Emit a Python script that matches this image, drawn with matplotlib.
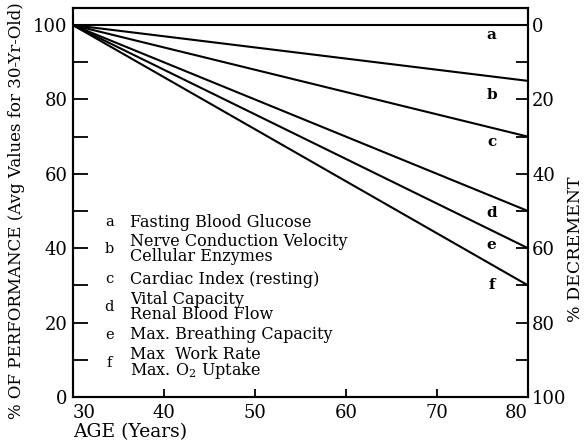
import matplotlib
matplotlib.use("Agg")
import matplotlib.pyplot as plt

plt.rcParams['font.family'] = ['DejaVu Serif']
plt.rcParams['mathtext.fontset'] = 'dejavuserif'

# data
ages = [30, 80]
line_keys = ['a', 'b', 'c', 'd', 'e', 'f']
perf_at_80 = [100, 85, 70, 50, 40, 30]
perf_at_30 = 100

legend_keys = ['a', 'b', 'c', 'd', 'e', 'f']
legend_texts = [
    'Fasting Blood Glucose',
    'Nerve Conduction Velocity\nCellular Enzymes',
    'Cardiac Index (resting)',
    'Vital Capacity\nRenal Blood Flow',
    'Max. Breathing Capacity',
    'Max  Work Rate\nMax. O$_2$ Uptake',
]
legend_y = [47.0, 39.7, 31.7, 24.3, 16.7, 9.0]
key_label_y = [97.3, 81.2, 68.5, 49.5, 40.9, 30.1]

left_ticks = [0, 20, 40, 60, 80, 100]
right_ticks = [0, 20, 40, 60, 80, 100]
x_ticks = [30, 40, 50, 60, 70, 80]

fig = plt.figure(figsize=(5.88, 4.45), dpi=100)
ax = fig.add_axes([0.124, 0.108, 0.774, 0.874])
ymax = 104.6
ax.set_xlim(30, 80)
ax.set_ylim(0, ymax)

for key, end in zip(line_keys, perf_at_80):
    ax.plot(ages, [perf_at_30, end], color='black', lw=1.5, solid_capstyle='butt', clip_on=False)

for key, y in zip(line_keys, key_label_y):
    ax.text(76.0, y, key, ha='center', va='center', fontsize=11, fontweight='bold')

for key, txt, y in zip(legend_keys, legend_texts, legend_y):
    ax.text(34.0, y, key, ha='center', va='center', fontsize=10.5)
    ax.text(36.3, y, txt, ha='left', va='center', fontsize=11.5, linespacing=0.85)

for s in ax.spines.values():
    s.set_linewidth(1.5)

ax.set_yticks(left_ticks)
ax.set_yticks(range(0, 101, 10), minor=True)
ax.tick_params(axis='y', which='both', direction='in', length=11, width=1.3, labelsize=13, pad=4)
ax.set_xticks(x_ticks)
ax.set_xticklabels([str(v) for v in x_ticks])
ax.tick_params(axis='x', direction='in', length=6, width=1.3, labelsize=13, pad=5)
xl = ax.get_xticklabels()
xl[0].set_ha('left')
xl[-1].set_ha('right')

ax.set_xlabel('AGE (Years)', fontsize=13.5, loc='left', labelpad=1)
ax.set_ylabel('% OF PERFORMANCE (Avg Values for 30-Yr-Old)', fontsize=12, labelpad=3)
ax.yaxis.set_label_coords(-0.105, 0.48)

ax2 = ax.twinx()
ax2.set_ylim(100, 100 - ymax)
ax2.set_yticks(right_ticks)
ax2.set_yticks(range(0, 101, 10), minor=True)
ax2.tick_params(axis='y', which='both', direction='in', length=9, width=1.3, labelsize=13, pad=3)
ax2.set_ylabel('% DECREMENT', fontsize=12.5, labelpad=2)
ax2.yaxis.set_label_coords(1.085, 0.38)
for s in ax2.spines.values():
    s.set_linewidth(1.5)

fig.savefig('out.png', dpi=100)
